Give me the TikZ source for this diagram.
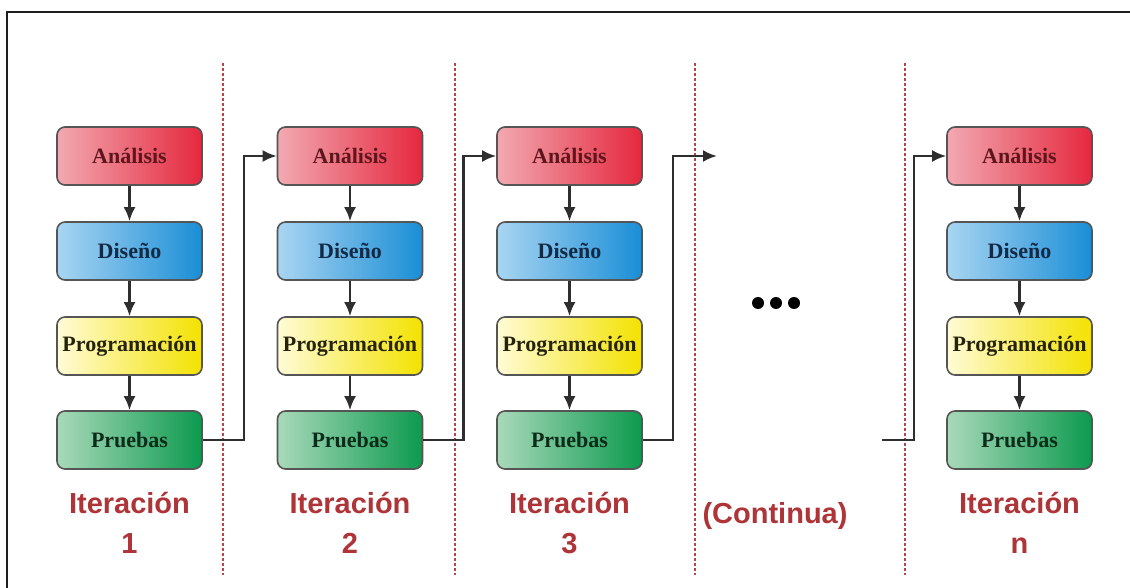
\documentclass[tikz,border=0pt]{standalone}
\usepackage{fontspec}
\setmainfont{Liberation Serif}
\newfontfamily\lblfont{Liberation Sans}
\usetikzlibrary{arrows.meta}
\definecolor{frameblack}{HTML}{1E1E1E}
\definecolor{sepred}{HTML}{B84448}
\definecolor{lblred}{HTML}{AE3438}
\definecolor{edge}{HTML}{555555}
\definecolor{conncol}{HTML}{2E2E2E}
\definecolor{anaL}{HTML}{F2A9B1}
\definecolor{anaR}{HTML}{E5283E}
\definecolor{disL}{HTML}{A9D5F2}
\definecolor{disR}{HTML}{1A8ED6}
\definecolor{proL}{HTML}{FFFBD6}
\definecolor{proR}{HTML}{F3E200}
\definecolor{pruL}{HTML}{A9D9BA}
\definecolor{pruR}{HTML}{0C9A4E}
\definecolor{anaT}{HTML}{5E161C}
\definecolor{disT}{HTML}{122A46}
\definecolor{proT}{HTML}{26230C}
\definecolor{pruT}{HTML}{0C2C1A}
\tikzset{
  phase/.style={draw=edge, line width=1.6pt, rounded corners=8pt,
    minimum width=145pt, minimum height=58pt, inner sep=0pt,
    font=\bfseries\fontsize{22}{26}\selectfont},
  analisis/.style={phase, left color=anaL, right color=anaR, text=anaT},
  diseno/.style={phase, left color=disL, right color=disR, text=disT},
  program/.style={phase, left color=proL, right color=proR, text=proT},
  pruebas/.style={phase, left color=pruL, right color=pruR, text=pruT},
  flow/.style={draw=conncol, line width=2.6pt,
    -{Latex[length=14pt,width=12pt]}},
  conn/.style={flow},
  separator/.style={draw=sepred, line width=2.4pt, dash pattern=on 3pt off 2pt},
  lbl/.style={text=lblred, align=center,
    font=\lblfont\bfseries\fontsize{29}{40}\selectfont},
}
\begin{document}
\begin{tikzpicture}[x=1pt,y=-1pt]
\useasboundingbox (0,0) rectangle (1130,588);
% outer frame (left and top edges)
\draw[frameblack, line width=2.6pt] (7,600) -- (7,12) -- (1140,12);

% iteration separators
\foreach \sx in {223,455,695,905}
  \draw[separator] (\sx,63) -- (\sx,575);

% phase boxes of each iteration
\foreach \c/\cx in {1/129.5, 2/350, 3/569.5, n/1019.5} {
  \node[analisis] (a\c) at (\cx,156) {Análisis};
  \node[diseno]   (d\c) at (\cx,251) {Diseño};
  \node[program]  (g\c) at (\cx,346) {Programación};
  \node[pruebas]  (p\c) at (\cx,440) {Pruebas};
  \draw[flow] (a\c) -- (d\c);
  \draw[flow] (d\c) -- (g\c);
  \draw[flow] (g\c) -- (p\c);
}

% links from one iteration to the next
\draw[conn] (p1.east) -- ++(41,0) |- (a2.west);
\draw[conn] (p2.east) -- ++(40,0) |- (a3.west);
\coordinate (out3) at (717,156);
\coordinate (inN) at (882,440);
\draw[conn] (p3.east) -- ++(30,0) |- (out3);
\draw[conn] (inN) -- ++(32,0) |- (an.west);

% ellipsis
\foreach \dx in {758,776,794}
  \fill[black] (\dx,303) circle (6pt);

% iteration labels
\node[lbl] (l1) at (129.5,523) {Iteración\\1};
\node[lbl] (l2) at (350,523) {Iteración\\2};
\node[lbl] (l3) at (569.5,523) {Iteración\\3};
\node[lbl] (lc) at (775,516) {(Continua)};
\node[lbl] (ln) at (1019.5,523) {Iteración\\n};
\end{tikzpicture}
\end{document}
